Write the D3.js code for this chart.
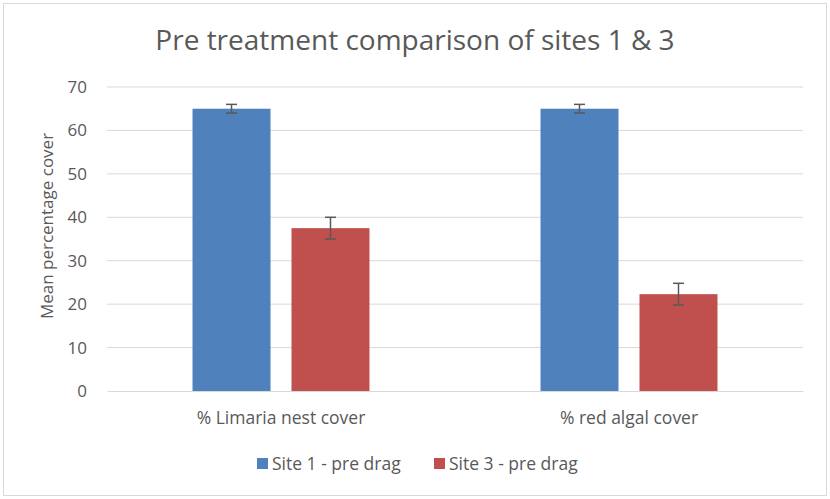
<!DOCTYPE html>
<html>
<head>
<meta charset="utf-8">
<script src="https://cdn.jsdelivr.net/npm/d3@7"></script>
<style>
  body { margin: 0; background: #fff; }
  text { font-family: "Open Sans", sans-serif; fill: #595959; }
</style>
</head>
<body>
<div id="chart"></div>
<script>
// Dados do gráfico
const categories = ['% Limaria nest cover', '% red algal cover'];
const seriesNames = ['Site 1 - pre drag', 'Site 3 - pre drag'];
const site1Values = [65, 65];
const site1Errors = [1, 1];
const site3Values = [37.5, 22.3];
const site3Errors = [2.5, 2.5];
const yTicks = [0, 10, 20, 30, 40, 50, 60, 70];
const chartTitle = 'Pre treatment comparison of sites 1 & 3';
const yAxisTitle = 'Mean percentage cover';

const seriesColors = ['#4f81bd', '#c0504d'];

const W = 830, H = 499;
const plot = {left: 107, right: 803, top: 87, bottom: 391};
const fontFamily = '"Open Sans", sans-serif';

const svg = d3.select('#chart').append('svg')
    .attr('width', W)
    .attr('height', H);

// Borda do gráfico
svg.append('rect')
    .attr('x', 3.5).attr('y', 3.5)
    .attr('width', W - 7).attr('height', H - 7)
    .attr('fill', '#fff')
    .attr('stroke', '#d9d9d9')
    .attr('stroke-width', 1);

// Escalas
const x0 = d3.scaleBand()
    .domain(categories)
    .range([plot.left, plot.right])
    .paddingInner(0)
    .paddingOuter(0);

const x1 = d3.scaleBand()
    .domain(seriesNames)
    .range([0, x0.bandwidth()])
    .paddingInner(0.212)
    .paddingOuter(0.864);

const y = d3.scaleLinear()
    .domain([0, 70])
    .range([plot.bottom, plot.top]);

// Linhas de grade
svg.append('g')
    .selectAll('line')
    .data(yTicks.filter(d => d > 0))
    .enter()
    .append('line')
    .attr('x1', plot.left)
    .attr('x2', plot.right)
    .attr('y1', d => y(d))
    .attr('y2', d => y(d))
    .attr('stroke', '#d9d9d9')
    .attr('stroke-width', 1);

// Eixo Y (só rótulos)
const yAxis = svg.append('g')
    .attr('transform', `translate(${plot.left},0)`)
    .call(d3.axisLeft(y).tickValues(yTicks).tickSize(0).tickPadding(20));
yAxis.select('.domain').remove();
yAxis.selectAll('text')
    .style('font-size', '17px')
    .style('font-family', fontFamily)
    .attr('fill', '#595959');

// Eixo X
const xAxis = svg.append('g')
    .attr('transform', `translate(0,${plot.bottom})`)
    .call(d3.axisBottom(x0).tickSize(0).tickPadding(21));
xAxis.select('.domain')
    .attr('stroke', '#d9d9d9')
    .attr('stroke-width', 1);
xAxis.selectAll('text')
    .style('font-size', '17.5px')
    .style('font-family', fontFamily)
    .attr('fill', '#595959');

// Dados agrupados
const grouped = categories.map((c, i) => ({
    category: c,
    bars: [
        {series: seriesNames[0], value: site1Values[i], err: site1Errors[i], color: seriesColors[0]},
        {series: seriesNames[1], value: site3Values[i], err: site3Errors[i], color: seriesColors[1]}
    ]
}));

const groups = svg.selectAll('.group')
    .data(grouped)
    .enter()
    .append('g')
    .attr('class', 'group')
    .attr('transform', d => `translate(${x0(d.category)},0)`);

groups.selectAll('rect')
    .data(d => d.bars)
    .enter()
    .append('rect')
    .attr('x', d => x1(d.series))
    .attr('width', x1.bandwidth())
    .attr('y', d => y(d.value))
    .attr('height', d => y(0) - y(d.value))
    .attr('fill', d => d.color);

// Barras de erro
const errG = groups.selectAll('.err')
    .data(d => d.bars)
    .enter()
    .append('g')
    .attr('class', 'err')
    .attr('stroke', '#595959')
    .attr('stroke-width', 1.5);

errG.append('line')
    .attr('x1', d => x1(d.series) + x1.bandwidth() / 2)
    .attr('x2', d => x1(d.series) + x1.bandwidth() / 2)
    .attr('y1', d => y(d.value + d.err))
    .attr('y2', d => y(d.value - d.err));

[1, -1].forEach(s => {
    errG.append('line')
        .attr('x1', d => x1(d.series) + x1.bandwidth() / 2 - 5.5)
        .attr('x2', d => x1(d.series) + x1.bandwidth() / 2 + 5.5)
        .attr('y1', d => y(d.value + s * d.err))
        .attr('y2', d => y(d.value + s * d.err));
});

// Título
svg.append('text')
    .attr('x', 415)
    .attr('y', 50)
    .attr('text-anchor', 'middle')
    .style('font-size', '28px')
    .text(chartTitle);

// Título do eixo Y
svg.append('text')
    .attr('transform', `translate(53,226) rotate(-90)`)
    .attr('text-anchor', 'middle')
    .style('font-size', '17px')
    .text(yAxisTitle);

// Legenda
const legend = svg.append('g')
    .attr('transform', 'translate(257,458)');

const legendItems = legend.selectAll('.legend-item')
    .data(seriesNames)
    .enter()
    .append('g')
    .attr('class', 'legend-item')
    .attr('transform', (d, i) => `translate(${i * 177},0)`);

legendItems.append('rect')
    .attr('width', 11)
    .attr('height', 11)
    .attr('fill', (d, i) => seriesColors[i]);

legendItems.append('text')
    .attr('x', 15)
    .attr('y', 12)
    .style('font-size', '17.5px')
    .text(d => d);
</script>
</body>
</html>
